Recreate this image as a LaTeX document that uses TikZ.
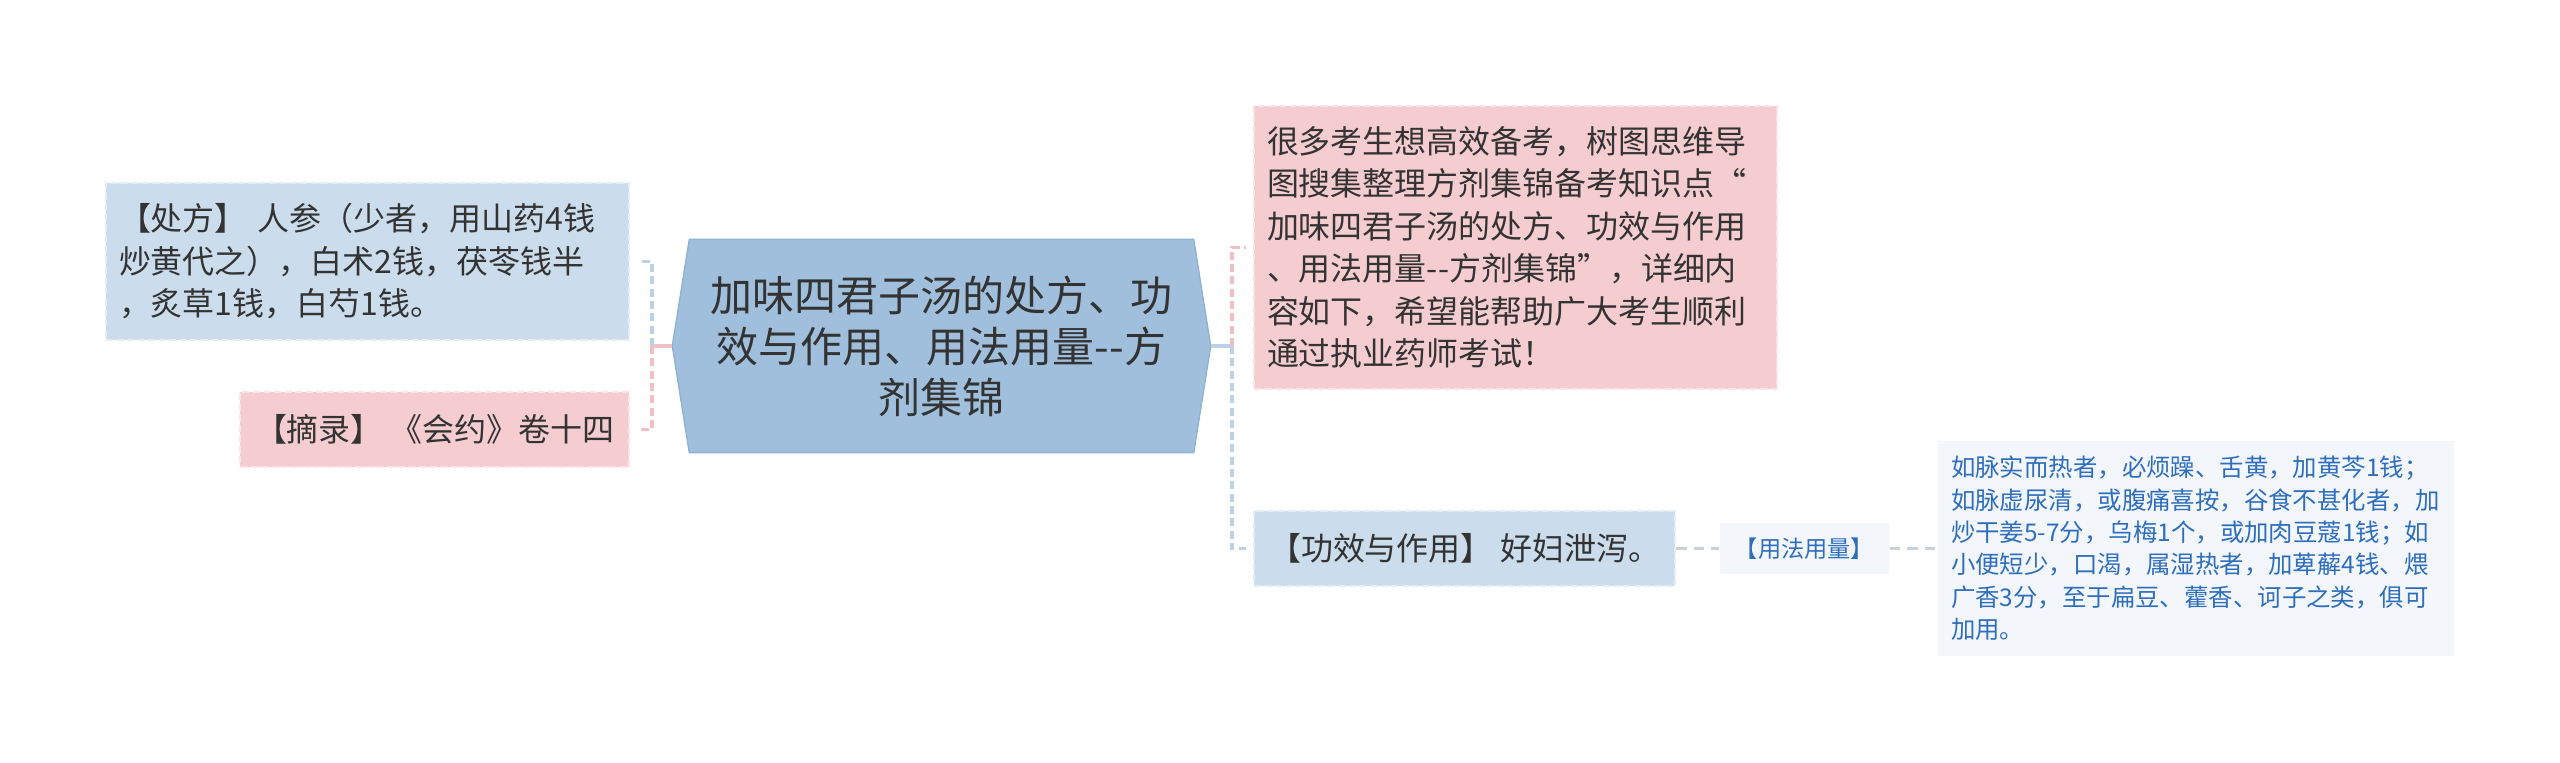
\documentclass[tikz,border=0pt]{standalone}
\usepackage{xcolor}
\usepackage{fontspec}
\newfontfamily\cjk{Noto Sans CJK SC}
\usepackage{tikz}
\usetikzlibrary{calc, backgrounds}

\definecolor{txtgray}{HTML}{333333}
\definecolor{bluefill}{HTML}{CBDCEC}
\definecolor{blueedge}{HTML}{E4EDF6}
\definecolor{pinkfill}{HTML}{F5CDD0}
\definecolor{pinkedge}{HTML}{FAE4E6}
\definecolor{titlefill}{HTML}{A0BFDC}
\definecolor{titleedge}{HTML}{90B3D5}
\definecolor{palefill}{HTML}{F3F7FC}
\definecolor{deepblue}{HTML}{2E6EBD}
\definecolor{pinkline}{HTML}{F1BFC4}
\definecolor{blueline}{HTML}{BDD1E6}
\definecolor{grayline}{HTML}{C9D2DC}

\tikzset{
	bluebox/.style={fill=bluefill, draw=blueedge, line width=0.6pt, dash pattern=on 2pt off 1pt,
		inner xsep=0.13cm, align=left, text=txtgray, font=\cjk\fontsize{9.1pt}{12.1pt}\selectfont},
	pinkbox/.style={bluebox, fill=pinkfill, draw=pinkedge},
	palebox/.style={fill=palefill, inner xsep=0.13cm, align=left, text=deepblue,
		font=\cjk\fontsize{6.95pt}{9.2pt}\selectfont},
	pinkdash/.style={pinkline, line width=0.9pt, dash pattern=on 2.3pt off 1.2pt},
	bluedash/.style={blueline, line width=0.9pt, dash pattern=on 2.3pt off 1.2pt},
	graydash/.style={grayline, line width=0.7pt, dash pattern=on 3pt off 2pt},
}

\begin{document}
\begin{tikzpicture}
	\useasboundingbox (0,0) rectangle (25.6,-7.63);
	
	% centre topic
	\node (title) at (9.415,-3.46) [minimum width=5.03cm, minimum height=2.12cm, align=center, text=txtgray,
		font=\cjk\fontsize{11.95pt}{14.5pt}\selectfont]
		{加味四君子汤的处方、功\\效与作用、用法用量-{}-方\\剂集锦};
	\coordinate (titleL) at ($(title.west)+(-0.17,0)$);
	\coordinate (titleR) at ($(title.east)+(0.17,0)$);
	\begin{scope}[on background layer]
		\filldraw [fill=titlefill, draw=titleedge, line width=0.4pt] (title.north west) -- (title.north east)
			-- (titleR) -- (title.south east) -- (title.south west) -- (titleL) -- cycle;
	\end{scope}
	
	% left side
	\node (fang) at (3.675,-2.615) [bluebox, text width=4.97cm, minimum height=1.57cm]
		{【处方】 人参（少者，用山药4钱\\炒黄代之），白术2钱，茯苓钱半\\，炙草1钱，白芍1钱。};
	\node (zhai) at (4.345,-4.295) [pinkbox, align=center, minimum width=3.89cm, minimum height=0.75cm]
		{【摘录】 《会约》卷十四};
	
	% right side
	\node (tip) at (15.155,-2.475) [pinkbox, text width=4.97cm, minimum height=2.83cm]
		{很多考生想高效备考，树图思维导\\图搜集整理方剂集锦备考知识点“\\加味四君子汤的处方、功效与作用\\、用法用量-{}-方剂集锦”，详细内\\容如下，希望能帮助广大考生顺利\\通过执业药师考试！};
	\node (gong) at (14.645,-5.485) [bluebox, align=center, minimum width=4.21cm, minimum height=0.75cm]
		{【功效与作用】 好妇泄泻。};
	\node (yongfa) at (18.045,-5.485) [palebox, align=center, minimum width=1.69cm, minimum height=0.51cm,
		font=\cjk\fontsize{6.6pt}{8pt}\selectfont] {【用法用量】};
	\node (detail) at (21.96,-5.485) [palebox, text width=4.9cm, minimum height=2.15cm]
		{如脉实而热者，必烦躁、舌黄，加黄芩1钱；\\如脉虚尿清，或腹痛喜按，谷食不甚化者，加\\炒干姜5-7分，乌梅1个，或加肉豆蔻1钱；如\\小便短少，口渴，属湿热者，加萆薢4钱、煨\\广香3分，至于扁豆、藿香、诃子之类，俱可\\加用。};
	
	% brackets
	\coordinate (jL) at (6.52,-3.46);
	\coordinate (jR) at (12.32,-3.46);
	\draw [pinkline, line width=0.9pt] (titleL) -- (jL);
	\draw [bluedash, shorten >=0.11cm] (jL) |- (fang.east);
	\draw [pinkdash, shorten >=0.11cm] (jL) |- (zhai.east);
	\draw [blueline, line width=0.9pt] (titleR) -- (jR);
	\draw [pinkdash, shorten >=0.07cm] (jR) |- (tip.west);
	\draw [bluedash, shorten >=0.07cm] (jR) |- (gong.west);
	
	\draw [graydash] (gong) -- (yongfa);
	\draw [graydash] (yongfa) -- (detail);
\end{tikzpicture}
\end{document}
